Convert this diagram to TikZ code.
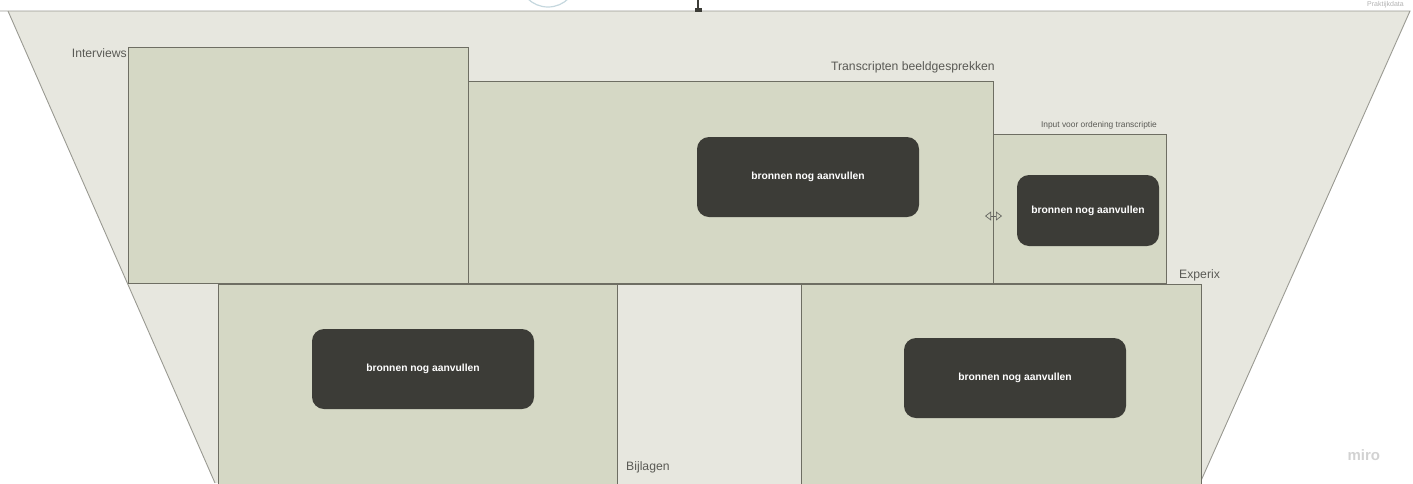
\documentclass[tikz,border=0pt]{standalone}
\usepackage{fontspec}
\setmainfont{Liberation Sans}
\usetikzlibrary{arrows.meta}
\definecolor{veld}{HTML}{E7E7DF}
\definecolor{vakgroen}{HTML}{D5D8C5}
\definecolor{rand}{HTML}{6E6E63}
\definecolor{donker}{HTML}{3C3C37}
\definecolor{tekstgrijs}{HTML}{5A5A55}

\begin{document}
\begin{tikzpicture}[x=1pt,y=-1pt,
    vak/.style={draw=rand,line width=1.4pt,fill=vakgroen,inner sep=0pt},
    bron/.style={fill=donker,rounded corners=12pt,text=white,inner sep=0pt,
                 font=\fontsize{10.3}{12}\selectfont\bfseries},
    label/.style={text=tekstgrijs,inner sep=0pt,font=\fontsize{12.2}{14}\selectfont}]
    \useasboundingbox (0,0) rectangle (1413,483);
    \clip (0,0) rectangle (1413,483);

    % Trechter
    \fill[veld] (8,11) -- (1410,11) -- (1200,483) -- (215,483) -- cycle;
    \draw[rand!70,line width=0.9pt] (0,11) -- (1410,11) -- (1200,483);
    \draw[rand!70,line width=0.9pt] (8,11) -- (215,483);
    \node[label,anchor=north east,font=\fontsize{7}{8}\selectfont,text=gray!60] (praktijk) at (1404,1) {Praktijkdata};

    % Restjes bovenaan
    \draw[cyan!30!gray!40,line width=1.2pt] (548,-22) circle (29);
    \draw[donker,line width=1.2pt] (698,0) -- (698,10);
    \fill[donker] (695,8) rectangle (702,12);

    % Bovenste rij
    \node[vak,minimum width=340,minimum height=236,anchor=north west] (interviews) at (128,47) {};
    \node[label,anchor=east] (interviewslbl) at (127,53) {Interviews};

    \node[vak,minimum width=525,minimum height=202,anchor=north west] (transcript) at (468,81) {};
    \node[label,anchor=east] (transcriptlbl) at (995,67) {Transcripten beeldgesprekken};
    \node[bron,minimum width=222,minimum height=80] (bron1) at (808,177) {bronnen nog aanvullen};

    \node[vak,minimum width=173,minimum height=149,anchor=north west] (input) at (993,134) {};
    \node[label,anchor=east,font=\fontsize{8.4}{9}\selectfont] (inputlbl) at (1157,125) {Input voor ordening transcriptie};
    \node[bron,minimum width=142,minimum height=71] (bron2) at (1088,210.5) {bronnen nog aanvullen};

    \coordinate (pijlL) at (985,216);
    \coordinate (pijlR) at (1002,216);
    \draw[donker!80,line width=0.7pt,{Triangle[open,length=6pt,width=9pt]}-{Triangle[open,length=6pt,width=9pt]}] (pijlL) -- (pijlR);

    % Onderste rij
    \node[vak,minimum width=399,minimum height=210,anchor=north west] (links) at (218,284) {};
    \node[bron,minimum width=222,minimum height=80] (bron3) at (423,369) {bronnen nog aanvullen};

    \node[vak,fill=veld,minimum width=184,minimum height=210,anchor=north west] (bijlagen) at (617,284) {};
    \node[label,anchor=west] (bijlagenlbl) at (626,467) {Bijlagen};

    \node[vak,minimum width=400,minimum height=210,anchor=north west] (experix) at (801,284) {};
    \node[label,anchor=west] (experixlbl) at (1179,275) {Experix};
    \node[bron,minimum width=222,minimum height=80] (bron4) at (1015,378) {bronnen nog aanvullen};

    \node[text=gray!35,font=\fontsize{15}{17}\selectfont\bfseries,anchor=west] (miro) at (1344,455) {miro};
\end{tikzpicture}
\end{document}
